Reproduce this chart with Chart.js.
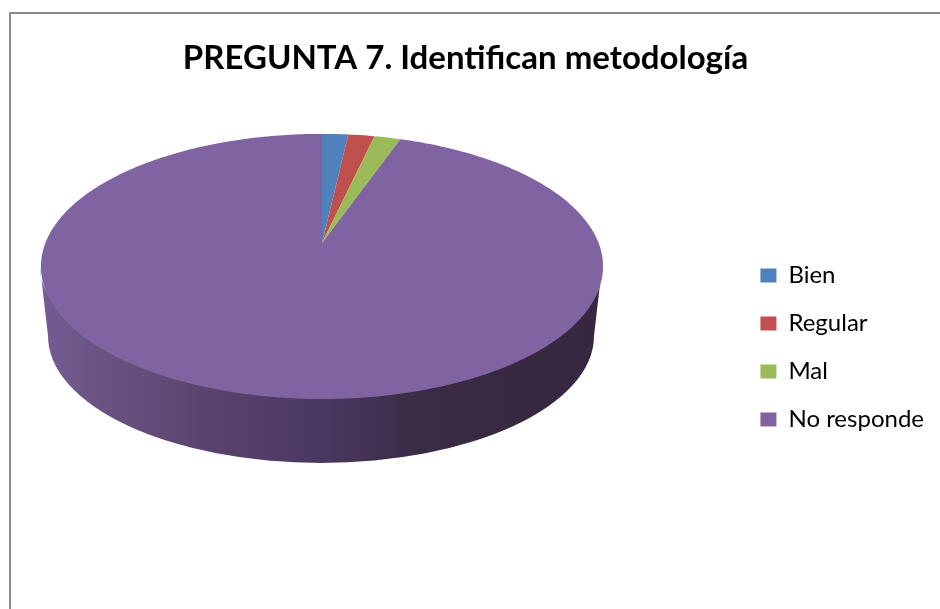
<!DOCTYPE html>
<html lang="es">
<head>
    <meta charset="UTF-8">
    <title>PREGUNTA 7</title>
    <script src="https://cdn.jsdelivr.net/npm/chart.js"></script>
    <style>
        html, body { margin: 0; padding: 0; background: #fff; overflow: hidden; }
        .chart-box { position: relative; width: 940px; height: 609px; }
        .frame {
            position: absolute; left: 9px; top: 12px; right: 0; bottom: 0;
            border-left: 2px solid #8a8a8a; border-top: 2px solid #8a8a8a;
        }
        canvas { position: absolute; left: 0; top: 0; }
    </style>
</head>
<body>
    <div class="chart-box">
        <div class="frame"></div>
        <canvas id="pie" width="940" height="609"></canvas>
    </div>
    <script>
        const titleText = 'PREGUNTA 7. Identifican metodología';
        const categories = ['Bien', 'Regular', 'Mal', 'No responde'];
        const values = [1, 1, 1, 53];
        const colors = ['#4f81bd', '#c0504d', '#9bbb59', '#8064a2'];

        // look of the tilted disc: apex, perspective and wall ellipses
        const disc = { a: 276.6, b: 128.4, k: 0.177 };
        const rimTop = { x: 321, y: 266.5, rx: 281, ry: 120 };
        const rimBottom = { x: 321, y: 336, rx: 273, ry: 127 };
        const wallStops = [
            [0, '#745c93'], [0.1, '#6a5484'], [0.28, '#5b4570'], [0.5, '#4a3860'],
            [0.65, '#3c2e4a'], [0.72, '#382b43'], [1, '#35273f']
        ];

        function project(arc, angle) {
            // Chart.js angle 0 is at 3 o'clock, disc angle 0 is at the far side
            const t = angle + Math.PI / 2;
            const d = 1 + disc.k * Math.cos(t);
            return { x: arc.x + disc.a * Math.sin(t) / d, y: arc.y - disc.b * Math.cos(t) / d };
        }

        const tiltedPie = {
            id: 'tiltedPie',
            afterLayout(chart) {
                // pie goes up left, legend and title are nudged to where they sit in the picture
                const a = { left: 0, top: 100, right: 644, bottom: 386, width: 644, height: 286 };
                chart.chartArea = a;
                chart.legend.left += -6;
                chart.legend.right += -6;
                chart.legend.top += 43;
                chart.legend.bottom += 43;
                chart.titleBlock.left -= 4.5;
                chart.titleBlock.right -= 4.5;
            },
            beforeDatasetsDraw(chart) {
                const ctx = chart.ctx;
                const arcs = chart.getDatasetMeta(0).data;

                const wall = ctx.createLinearGradient(rimTop.x - rimTop.rx, 0, rimTop.x + rimTop.rx, 0);
                wallStops.forEach(s => wall.addColorStop(s[0], s[1]));
                ctx.save();
                ctx.beginPath();
                ctx.ellipse(rimTop.x, rimTop.y, rimTop.rx, rimTop.ry, 0, Math.PI, 0, true);
                ctx.ellipse(rimBottom.x, rimBottom.y, rimBottom.rx, rimBottom.ry, 0, 0, Math.PI, false);
                ctx.closePath();
                ctx.fillStyle = wall;
                ctx.fill();

                arcs.forEach((arc, i) => {
                    const steps = Math.max(4, Math.ceil((arc.endAngle - arc.startAngle) * 60));
                    ctx.beginPath();
                    ctx.moveTo(arc.x, arc.y);
                    for (let s = 0; s <= steps; s++) {
                        const p = project(arc, arc.startAngle + (arc.endAngle - arc.startAngle) * s / steps);
                        ctx.lineTo(p.x, p.y);
                    }
                    ctx.closePath();
                    ctx.fillStyle = colors[i];
                    ctx.fill();
                });
                ctx.restore();
                return false;
            }
        };

        new Chart(document.getElementById('pie'), {
            type: 'pie',
            data: {
                labels: categories,
                datasets: [{ data: values, backgroundColor: colors, borderWidth: 0 }]
            },
            options: {
                responsive: false,
                animation: false,
                events: [],
                plugins: {
                    title: {
                        display: true,
                        text: titleText,
                        color: '#000',
                        font: { family: 'Lato', size: 33, weight: 'bold' },
                        padding: { top: 39, bottom: 19 }
                    },
                    legend: {
                        position: 'right',
                        labels: {
                            color: '#000',
                            font: { family: 'Lato', size: 24 },
                            boxWidth: 16,
                            boxHeight: 14,
                            padding: 24
                        }
                    },
                    tooltip: { enabled: false }
                }
            },
            plugins: [tiltedPie]
        });
    </script>
</body>
</html>
